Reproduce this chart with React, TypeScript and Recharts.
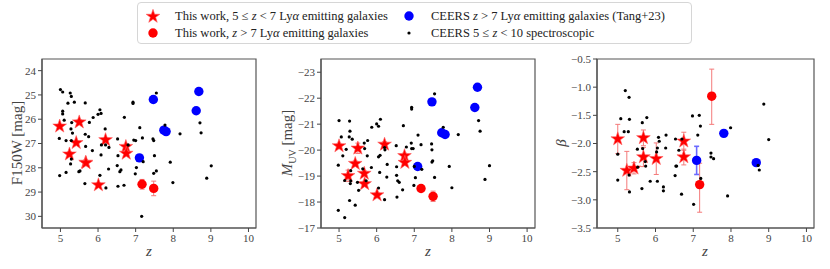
import React from "react";
import { ScatterChart, Scatter, XAxis, YAxis, ErrorBar, ReferenceArea } from "recharts";

type Pt = { z: number; v: number; e?: number | number[] };

const toPts = (rows: number[][]): Pt[] => rows.map(([z, v]) => ({ z, v }));

// ---------- F150W panel ----------
const starsF150: Pt[] = [
    { z: 4.98, v: 26.29, e: 0.08 }, { z: 5.5, v: 26.12, e: 0.1 }, { z: 5.42, v: 26.97, e: 0.08 },
    { z: 5.24, v: 27.44, e: 0.1 }, { z: 5.67, v: 27.78, e: 0.1 }, { z: 5.68, v: 27.8, e: 0.1 },
    { z: 6.01, v: 28.71, e: 0.1 }, { z: 6.2, v: 26.85, e: 0.08 }, { z: 6.74, v: 27.13, e: 0.1 },
    { z: 6.75, v: 27.41, e: 0.1 },
];
const redF150: Pt[] = [{ z: 7.17, v: 28.68, e: 0.2 }, { z: 7.48, v: 28.85, e: 0.3 }];
const blueF150 = toPts([[7.1, 27.59], [7.47, 25.19], [7.75, 26.45], [7.81, 26.51], [8.61, 25.65], [8.68, 24.86]]);
const ceersF150 = toPts([
    [5.0, 24.78], [5.06, 24.88], [5.26, 24.92], [5.29, 25.06], [5.2, 25.34], [5.37, 25.3], [5.66, 25.33],
    [5.06, 25.67], [5.06, 25.78], [5.1, 26.04], [5.3, 26.14], [5.28, 26.4], [5.32, 26.57], [4.97, 26.79],
    [5.15, 26.88], [5.29, 26.88], [5.66, 26.62], [5.75, 26.72], [5.67, 27.12], [5.85, 27.29], [6.05, 25.61],
    [6.08, 25.76], [6.0, 25.8], [5.87, 25.93], [5.77, 26.13], [6.19, 26.4], [6.09, 27.06], [6.2, 27.06],
    [6.29, 27.16], [6.08, 27.47], [6.52, 26.81], [6.7, 25.92], [6.93, 25.3], [6.93, 25.35], [7.11, 26.35],
    [7.18, 26.77], [6.95, 26.86], [7.0, 26.88], [6.8, 27.06], [6.53, 27.5], [6.51, 27.91], [6.61, 28.09],
    [6.58, 28.16], [6.28, 28.05], [6.05, 28.31], [5.52, 28.13], [5.49, 28.16], [5.27, 27.84], [5.29, 27.64],
    [5.15, 28.19], [4.98, 28.32], [5.65, 28.65], [6.21, 28.83], [6.53, 28.76], [6.69, 28.72], [6.99, 28.25],
    [7.02, 27.99], [7.2, 27.75], [7.16, 30.0], [7.55, 24.92], [7.78, 26.24], [7.46, 26.81], [7.48, 26.88],
    [7.5, 27.5], [7.55, 28.13], [7.48, 28.23], [7.92, 27.77], [7.99, 28.61], [8.18, 26.6], [8.71, 26.15],
    [8.74, 26.56], [9.01, 27.92], [8.89, 28.43],
]);

// ---------- M_UV panel ----------
const starsMuv: Pt[] = [
    { z: 5.0, v: -20.16, e: 0.1 }, { z: 5.5, v: -20.07, e: 0.2 }, { z: 5.43, v: -19.48, e: 0.1 },
    { z: 5.24, v: -19.01, e: 0.22 }, { z: 5.67, v: -19.1, e: 0.1 }, { z: 5.68, v: -18.7, e: 0.1 },
    { z: 6.01, v: -18.27, e: 0.1 }, { z: 6.21, v: -20.22, e: 0.1 }, { z: 6.74, v: -19.78, e: 0.1 },
    { z: 6.75, v: -19.52, e: 0.1 },
];
const redMuv: Pt[] = [{ z: 7.18, v: -18.52, e: 0.08 }, { z: 7.5, v: -18.22, e: 0.2 }];
const blueMuv = toPts([[7.09, -19.37], [7.47, -21.86], [7.73, -20.67], [7.82, -20.6], [8.61, -21.64], [8.68, -22.42]]);
const ceersMuv = toPts([
    [5.0, -21.14], [5.28, -21.12], [5.29, -20.73], [5.06, -20.51], [5.27, -20.51], [5.35, -20.42],
    [5.19, -20.03], [5.1, -19.78], [4.98, -19.42], [5.31, -19.21], [5.15, -18.83], [5.31, -18.82],
    [5.3, -18.71], [5.49, -18.76], [5.52, -18.45], [5.28, -18.06], [5.43, -17.88], [4.98, -17.68],
    [5.15, -17.4], [5.67, -20.27], [5.76, -20.37], [5.68, -20.06], [5.75, -19.78], [5.86, -19.33],
    [5.63, -19.28], [5.72, -18.82], [5.87, -20.88], [6.0, -21.01], [6.05, -20.92], [6.1, -21.19],
    [6.05, -19.74], [6.09, -19.8], [6.21, -20.1], [6.22, -20.01], [6.08, -19.14], [6.05, -18.54],
    [6.21, -18.09], [6.28, -19.45], [6.27, -18.96], [6.52, -20.17], [6.53, -19.36], [6.53, -19.03],
    [6.56, -18.82], [6.6, -18.76], [6.54, -18.19], [6.69, -18.47], [6.71, -20.94], [6.93, -21.65],
    [6.93, -21.58], [6.79, -20.12], [6.92, -20.27], [6.97, -20.06], [6.93, -20.06], [7.1, -20.58],
    [7.18, -20.21], [7.0, -19.37], [7.03, -18.94], [6.99, -18.64], [7.2, -19.26], [7.46, -20.24],
    [7.47, -20.01], [7.47, -19.54], [7.49, -19.59], [7.54, -18.95], [7.54, -22.17], [7.77, -20.88],
    [7.93, -19.37], [8.0, -18.55], [8.17, -20.6], [8.71, -21.14], [8.75, -20.73], [8.88, -18.87], [9.0, -19.4],
]);

// ---------- beta panel ----------
const starsBeta: Pt[] = [
    { z: 5.0, v: -1.92, e: 0.26 }, { z: 5.24, v: -2.48, e: 0.34 }, { z: 5.43, v: -2.44, e: 0.1 },
    { z: 5.68, v: -1.9, e: 0.14 }, { z: 5.68, v: -2.24, e: 0.17 }, { z: 6.02, v: -2.27, e: 0.28 },
    { z: 6.75, v: -1.96, e: 0.16 }, { z: 6.75, v: -2.24, e: 0.14 },
];
const redBeta: Pt[] = [{ z: 7.17, v: -2.73, e: [0.49, 0.38] }, { z: 7.49, v: -1.16, e: [0.5, 0.48] }];
const blueBeta: Pt[] = [{ z: 7.09, v: -2.3, e: 0.25 }, { z: 7.81, v: -1.82, e: 0 }, { z: 8.67, v: -2.34, e: 0 }];
const ceersBeta = toPts([
    [5.2, -1.06], [5.3, -1.18], [5.08, -1.56], [5.31, -1.57], [5.17, -1.79], [5.28, -1.79], [5.0, -2.19],
    [5.0, -2.65], [5.3, -2.56], [5.31, -2.86], [5.52, -2.1], [5.53, -2.42], [5.65, -1.63], [5.77, -1.54],
    [5.66, -2.09], [5.73, -2.32], [5.74, -2.4], [5.64, -2.8], [5.86, -2.67], [6.05, -2.67], [6.08, -1.89],
    [6.1, -1.96], [6.05, -2.08], [6.03, -2.15], [6.21, -2.77], [6.21, -2.84], [6.27, -2.08], [6.28, -1.85],
    [6.53, -1.92], [6.54, -2.4], [6.56, -2.4], [6.52, -2.57], [6.62, -2.12], [6.69, -2.9], [6.7, -1.92],
    [7.01, -3.08], [6.98, -1.51], [7.16, -1.5], [7.12, -1.85], [7.19, -1.69], [7.2, -2.62], [7.47, -2.17],
    [7.47, -2.24], [7.54, -2.27], [7.99, -1.72], [7.91, -2.93], [8.87, -1.3], [9.0, -1.93], [8.72, -2.39],
    [8.75, -2.47],
]);

const zTicks = [5, 6, 7, 8, 9, 10];
const f150Ticks = [24, 25, 26, 27, 28, 29, 30];
const muvTicks = [-23, -22, -21, -20, -19, -18, -17];
const betaTicks = [-3.5, -3.0, -2.5, -2.0, -1.5, -1.0, -0.5];

const FONT = "Liberation Serif, DejaVu Serif, serif";
const INK = "#444";
const FRAME = "#555";
const RED = "#ff0000";
const BLUE = "#0000ff";
const RED_ERR = "#f47a7a";
const BLUE_ERR = "#6a6aff";

const minus = (s: string) => s.replace("-", "\u2212");

const StarMark = (props: any) => {
    const { cx, cy } = props;
    if (cx == null || cy == null) return null;
    const R = 7.2;
    const r = R * 0.39;
    let d = "";
    for (let i = 0; i < 10; i++) {
        const rad = i % 2 === 0 ? R : r;
        const a = (Math.PI / 5) * i - Math.PI / 2;
        d += (i === 0 ? "M" : "L") + (cx + rad * Math.cos(a)).toFixed(2) + "," + (cy + rad * Math.sin(a)).toFixed(2);
    }
    return <path d={d + "Z"} fill={RED} stroke="#ff6060" strokeWidth={0.6} />;
};

const dotMark = (r: number, fill: string) => (props: any) => {
    const { cx, cy } = props;
    if (cx == null || cy == null) return null;
    return <circle cx={cx} cy={cy} r={r} fill={fill} />;
};
const BigRed = dotMark(4.7, RED);
const BigBlue = dotMark(4.7, BLUE);
const Tiny = dotMark(1.6, "#000");

interface PanelProps {
    left: number;
    width: number;
    yAxisWidth: number;
    rightPad: number;
    xDomain: [number, number];
    yDomain: [number, number];
    yTicks: number[];
    reversed?: boolean;
    fmt: (v: number) => string;
    stars: Pt[];
    reds: Pt[];
    blues: Pt[];
    dots: Pt[];
    blueErr?: boolean;
}

const Panel: React.FC<PanelProps> = ({ left, width, yAxisWidth, rightPad, xDomain, yDomain, yTicks, reversed, fmt, stars, reds, blues, dots, blueErr }) => {
    const tickStyle = { fill: INK, fontSize: 11, fontFamily: FONT, style: { fontFamily: FONT } };
    return (
        <div style={{ position: "absolute", left, top: 0, fontFamily: FONT }}>
            <ScatterChart width={width} height={269} margin={{ top: 59, right: rightPad, bottom: 11, left: 0 }} style={{ fontFamily: FONT }}>
                <XAxis
                    type="number"
                    dataKey="z"
                    domain={xDomain}
                    allowDataOverflow
                    ticks={zTicks}
                    interval={0}
                    height={30}
                    tickSize={4}
                    tick={tickStyle}
                    axisLine={{ stroke: FRAME, strokeWidth: 1.2 }}
                    tickLine={{ stroke: INK }}
                />
                <YAxis
                    type="number"
                    dataKey="v"
                    domain={yDomain}
                    allowDataOverflow
                    reversed={reversed}
                    ticks={yTicks}
                    interval={0}
                    width={yAxisWidth}
                    tickSize={4}
                    tick={tickStyle}
                    tickFormatter={fmt}
                    axisLine={{ stroke: FRAME, strokeWidth: 1.2 }}
                    tickLine={{ stroke: INK }}
                />
                <ReferenceArea
                    x1={xDomain[0]}
                    x2={xDomain[1]}
                    y1={yDomain[0]}
                    y2={yDomain[1]}
                    fill="none"
                    stroke={FRAME}
                    strokeWidth={1.2}
                    ifOverflow="visible"
                />
                <Scatter data={stars} shape={StarMark} isAnimationActive={false}>
                    <ErrorBar dataKey="e" direction="y" width={2.5} stroke={RED_ERR} strokeWidth={1} />
                </Scatter>
                <Scatter data={reds} shape={BigRed} isAnimationActive={false}>
                    <ErrorBar dataKey="e" direction="y" width={2.5} stroke={RED_ERR} strokeWidth={1} />
                </Scatter>
                <Scatter data={blues} shape={BigBlue} isAnimationActive={false}>
                    {blueErr && <ErrorBar dataKey="e" direction="y" width={2.5} stroke={BLUE_ERR} strokeWidth={1.6} />}
                </Scatter>
                <Scatter data={dots} shape={Tiny} isAnimationActive={false} />
            </ScatterChart>
        </div>
    );
};

const labelBase: React.CSSProperties = {
    position: "absolute",
    fontFamily: FONT,
    color: INK,
    whiteSpace: "nowrap",
    lineHeight: 1,
};

const LegendMark: React.FC<{ kind: "star" | "red" | "blue" | "dot" }> = ({ kind }) => (
    <svg width={16} height={16} style={{ display: "block" }}>
        {kind === "star" && <StarMark cx={8} cy={8.5} />}
        {kind === "red" && <circle cx={8} cy={8} r={4.7} fill={RED} />}
        {kind === "blue" && <circle cx={8} cy={8} r={4.7} fill={BLUE} />}
        {kind === "dot" && <circle cx={8} cy={8} r={1.6} fill="#000" />}
    </svg>
);

const legendRows = [
    { kind: "star" as const, x: 145, y: 8, text: <>This work, 5 ≤ <i>z</i> &lt; 7 Ly<i>α</i> emitting galaxies</> },
    { kind: "red" as const, x: 145, y: 25, text: <>This work, <i>z</i> &gt; 7 Ly<i>α</i> emitting galaxies</> },
    { kind: "blue" as const, x: 401, y: 8, text: <>CEERS <i>z</i> &gt; 7 Ly<i>α</i> emitting galaxies (Tang+23)</> },
    { kind: "dot" as const, x: 401, y: 25, text: <>CEERS 5 ≤ <i>z</i> &lt; 10 spectroscopic</> },
];

export default function App() {
    return (
        <div style={{ position: "absolute", left: 0, top: 0, width: 830, height: 269, background: "#fff", overflow: "hidden", fontFamily: FONT }}>
            {/* legend */}
            <div
                style={{
                    position: "absolute",
                    left: 137,
                    top: 2,
                    width: 555,
                    height: 42,
                    border: "1px solid #d6d6d6",
                    borderRadius: 4,
                    boxSizing: "border-box",
                }}
            />
            {legendRows.map((row, i) => (
                <div key={i} style={{ position: "absolute", left: row.x, top: row.y, display: "flex", alignItems: "center" }}>
                    <LegendMark kind={row.kind} />
                    <span style={{ marginLeft: 14, fontFamily: FONT, fontSize: 12.5, color: "#222", whiteSpace: "nowrap" }}>{row.text}</span>
                </div>
            ))}

            <Panel
                left={0}
                width={270}
                yAxisWidth={42}
                rightPad={14}
                xDomain={[4.51, 10.2]}
                yDomain={[23.52, 30.48]}
                yTicks={f150Ticks}
                reversed
                fmt={(v) => minus(String(v))}
                stars={starsF150}
                reds={redF150}
                blues={blueF150}
                dots={ceersF150}
            />
            <Panel
                left={275}
                width={270}
                yAxisWidth={46}
                rightPad={10}
                xDomain={[4.52, 10.21]}
                yDomain={[-23.51, -17]}
                yTicks={muvTicks}
                reversed
                fmt={(v) => minus(String(v))}
                stars={starsMuv}
                reds={redMuv}
                blues={blueMuv}
                dots={ceersMuv}
            />
            <Panel
                left={550}
                width={275}
                yAxisWidth={47}
                rightPad={11}
                xDomain={[4.45, 10.2]}
                yDomain={[-3.5, -0.5]}
                yTicks={betaTicks}
                fmt={(v) => minus(v.toFixed(1))}
                stars={starsBeta}
                reds={redBeta}
                blues={blueBeta}
                dots={ceersBeta}
                blueErr
            />

            {/* axis labels */}
            <div style={{ ...labelBase, left: 17, top: 143, fontSize: 15, transform: "translate(-50%, -50%) rotate(-90deg)" }}>F150W [mag]</div>
            <div style={{ ...labelBase, left: 289, top: 143, fontSize: 15, transform: "translate(-50%, -50%) rotate(-90deg)" }}>
                <i>M</i>
                <sub style={{ fontSize: 10 }}>UV</sub> [mag]
            </div>
            <div style={{ ...labelBase, left: 561, top: 143, fontSize: 15, transform: "translate(-50%, -50%) rotate(-90deg)" }}>
                <i>β</i>
            </div>
            {[149, 428, 705].map((x) => (
                <div key={x} style={{ ...labelBase, left: x, top: 251, fontSize: 15, transform: "translate(-50%, -50%)" }}>
                    <i>z</i>
                </div>
            ))}
        </div>
    );
}
